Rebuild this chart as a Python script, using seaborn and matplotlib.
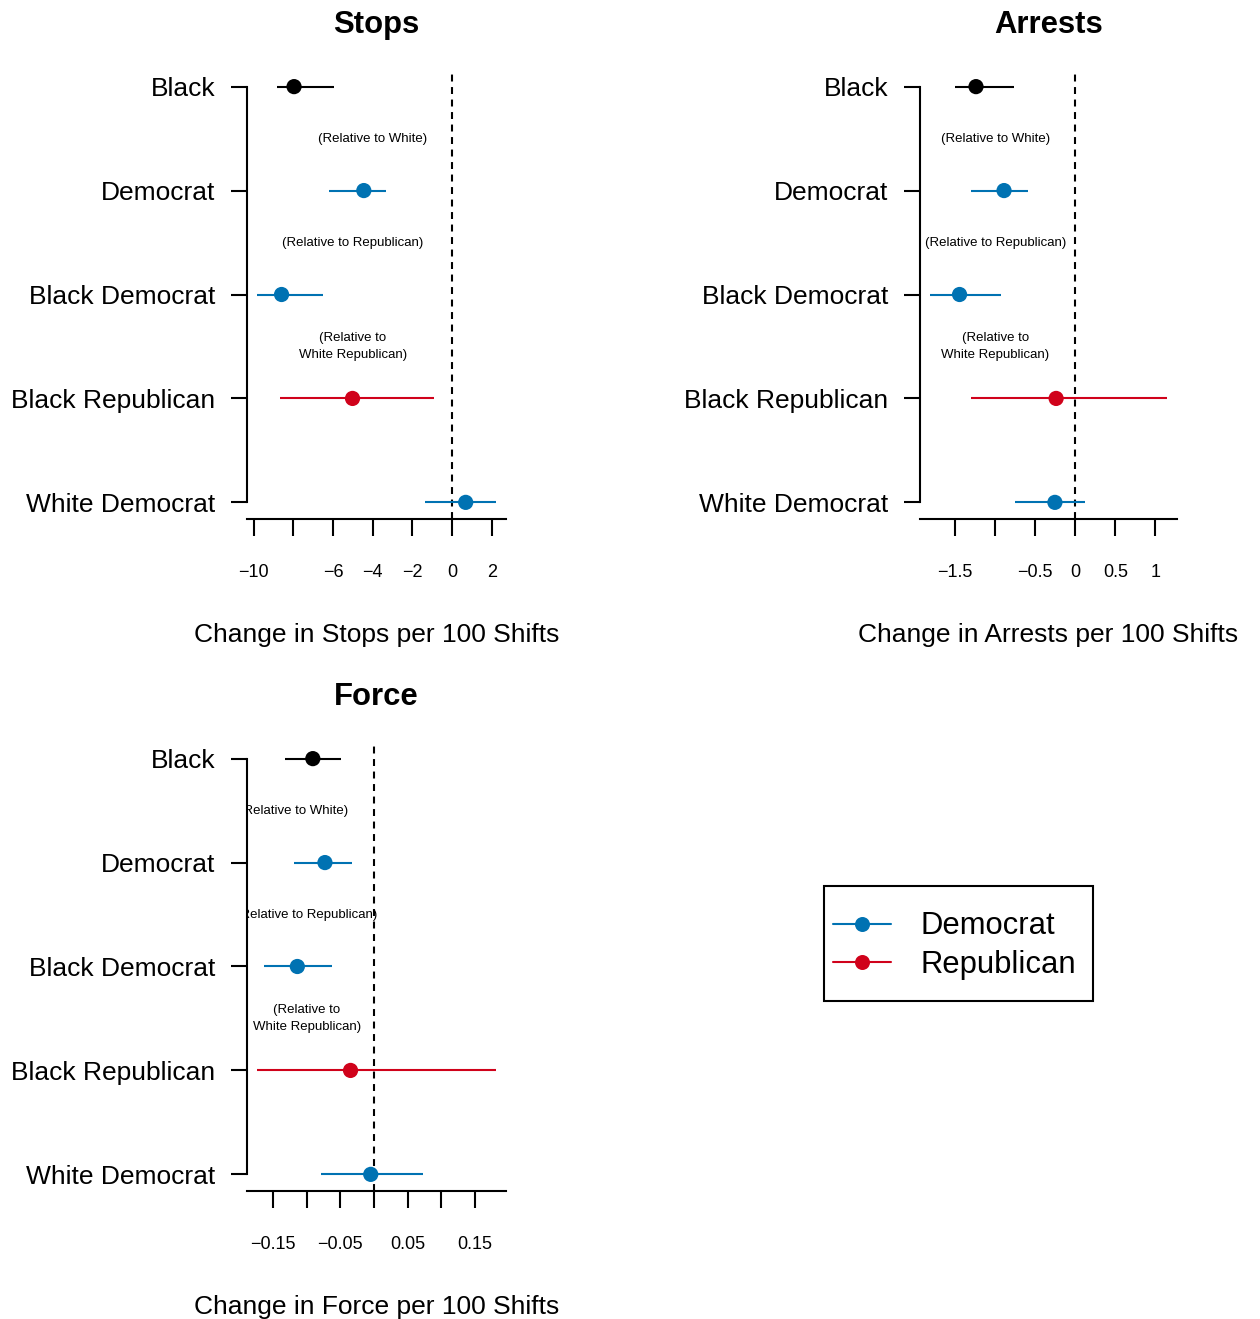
import numpy as np
import pandas as pd
import matplotlib
matplotlib.use("Agg")
import matplotlib.pyplot as plt
import seaborn as sns
from matplotlib.lines import Line2D
from matplotlib.patches import Rectangle

# ---- data -------------------------------------------------------------
categories = ["Black", "Democrat", "Black Democrat", "Black Republican", "White Democrat"]
groups = ["Race", "Democrat", "Democrat", "Republican", "Democrat"]
positions = [5, 4, 3, 2, 1]

stops_est = [-7.97, -4.45, -8.60, -5.02, 0.69]
stops_lo = [-8.85, -6.21, -9.86, -8.68, -1.38]
stops_hi = [-5.96, -3.34, -6.53, -0.92, 2.24]

arrests_est = [-1.24, -0.89, -1.445, -0.24, -0.255]
arrests_lo = [-1.50, -1.30, -1.82, -1.30, -0.75]
arrests_hi = [-0.76, -0.59, -0.93, 1.15, 0.115]

force_est = [-0.091, -0.073, -0.114, -0.035, -0.005]
force_lo = [-0.1325, -0.119, -0.163, -0.1745, -0.079]
force_hi = [-0.049, -0.0325, -0.063, 0.1816, 0.0723]

stops_ticks = [-10, -8, -6, -4, -2, 0, 2]
stops_ticklabels = ["\u221210", "", "\u22126", "\u22124", "\u22122", "0", "2"]
arrests_ticks = [-1.5, -1.0, -0.5, 0, 0.5, 1.0]
arrests_ticklabels = ["\u22121.5", "", "\u22120.5", "0", "0.5", "1"]
force_ticks = [-0.15, -0.10, -0.05, 0, 0.05, 0.10, 0.15]
force_ticklabels = ["\u22120.15", "", "\u22120.05", "", "0.05", "", "0.15"]

notes = ["(Relative to White)", "(Relative to Republican)", "(Relative to\nWhite Republican)"]
note_y = [4.5, 3.5, 2.5]
stops_note_x = [-4.0, -5.0, -5.0]
arrests_note_x = [-1.0, -1.0, -1.0]
force_note_x = [-0.12, -0.10, -0.10]

palette = {"Race": "black", "Democrat": "#0072B2", "Republican": "#D0021B"}
legend_groups = ["Democrat", "Republican"]

# ---- style ------------------------------------------------------------
sns.set_style("white")
plt.rcParams["font.family"] = ["Liberation Sans", "DejaVu Sans"]
plt.rcParams["axes.unicode_minus"] = True
plt.rcParams["lines.scale_dashes"] = False
for key in ("text.color", "axes.labelcolor", "xtick.color", "ytick.color", "axes.edgecolor"):
    plt.rcParams[key] = "black"

W, H = 1260, 1319
fig = plt.figure(figsize=(W / 100, H / 100), dpi=100)


def add_axes_px(left, top, right, bottom):
    return fig.add_axes([left / W, 1 - bottom / H, (right - left) / W, (bottom - top) / H])


def panel(ax, title, xlabel, est, lo, hi, ticks, ticklabels, note_x):
    df = pd.DataFrame({
        "category": categories, "group": groups, "pos": positions,
        "estimate": est, "lower": lo, "upper": hi,
    })
    ax.axvline(0, color="black", lw=1.5, dashes=(5, 4), zorder=1)
    for g, sub in df.groupby("group"):
        ax.hlines(sub["pos"], sub["lower"], sub["upper"], color=palette[g], lw=1.5, zorder=2)
    sns.scatterplot(data=df, x="estimate", y="pos", hue="group", palette=palette,
                    s=120, linewidth=0, legend=False, ax=ax, zorder=3)

    span = df["upper"].max() - df["lower"].min()
    ax.set_xlim(df["lower"].min() - 0.04 * span, df["upper"].max() + 0.04 * span)
    ax.set_ylim(1 - 0.16, 5 + 0.16)

    ax.set_yticks(positions)
    ax.set_yticklabels(categories)
    ax.set_xticks(ticks)
    ax.set_xticklabels(ticklabels)

    for txt, x, y in zip(notes, note_x, note_y):
        ax.text(x, y, txt, ha="center", va="center", fontsize=9.5, clip_on=True,
                linespacing=1.48, color="black")

    sns.despine(ax=ax)
    ax.spines["left"].set_bounds(1, 5)
    for side in ("left", "bottom"):
        ax.spines[side].set_linewidth(1.5)
        ax.spines[side].set_color("black")
    ax.tick_params(axis="y", length=11.5, width=1.5, pad=11.5, labelsize=19,
                   direction="out", left=True, color="black", labelcolor="black")
    ax.tick_params(axis="x", length=12, width=1.5, pad=20.5, labelsize=13,
                   direction="out", bottom=True, color="black", labelcolor="black")
    ax.set_ylabel("")
    ax.set_xlabel(xlabel, fontsize=19, va="baseline", color="black")
    ax.xaxis.set_label_coords(0.5, -123 / 449)
    ax.set_title(title, fontsize=22.3, fontweight="bold", pad=26.3, color="black")


ax1 = add_axes_px(247, 70, 506, 519)
panel(ax1, "Stops", "Change in Stops per 100 Shifts", stops_est, stops_lo, stops_hi,
      stops_ticks, stops_ticklabels, stops_note_x)

ax2 = add_axes_px(920, 70, 1177, 519)
panel(ax2, "Arrests", "Change in Arrests per 100 Shifts", arrests_est, arrests_lo, arrests_hi,
      arrests_ticks, arrests_ticklabels, arrests_note_x)

ax3 = add_axes_px(247, 742, 506, 1191)
panel(ax3, "Force", "Change in Force per 100 Shifts", force_est, force_lo, force_hi,
      force_ticks, force_ticklabels, force_note_x)

# ---- legend -----------------------------------------------------------
handles = [Line2D([0], [0], color=palette[g], lw=1.5, marker="o", markersize=10.8,
                  markeredgewidth=0) for g in legend_groups]
fig.legend(handles, legend_groups, loc="upper left",
           bbox_to_anchor=(833 / W, 1 - 911.5 / H), frameon=False, fontsize=22.3,
           handlelength=1.87, handletextpad=0.94, borderpad=0, borderaxespad=0,
           labelspacing=0.28, labelcolor="black")
fig.patches.append(Rectangle((824 / W, 1 - 1001 / H), (1093 - 824) / W, (1001 - 886) / H,
                             transform=fig.transFigure, fill=False, edgecolor="black",
                             lw=1.5))

fig.savefig("out.png", dpi=100, facecolor="white")
